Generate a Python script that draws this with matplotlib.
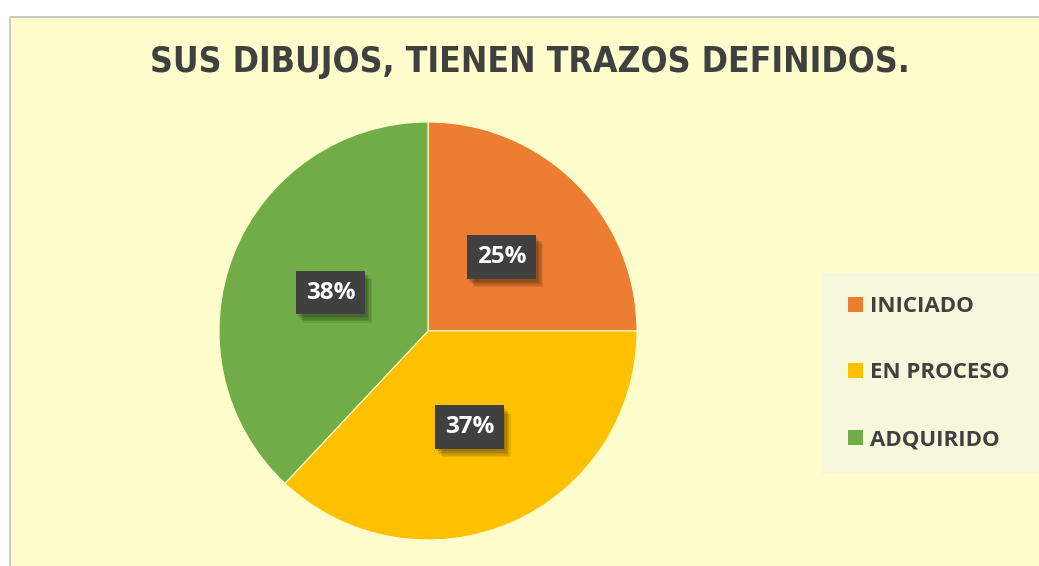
import matplotlib.pyplot as plt
import matplotlib.patheffects as pe
from matplotlib.patches import Rectangle, Patch

# data
categories = ["INICIADO", "EN PROCESO", "ADQUIRIDO"]
values = [25, 37, 38]
colors = ["#ED7D31", "#FFC000", "#70AD47"]
title = "SUS DIBUJOS, TIENEN TRAZOS DEFINIDOS."

W, H = 1039, 566
fig = plt.figure(figsize=(W / 100, H / 100), dpi=100, facecolor="white")

# chart area background (yellow) with thin grey border
fig.patches.append(Rectangle((10 / W, -0.05), 1.1, 1 - 17 / H + 0.05,
                             transform=fig.transFigure, facecolor="#FEFDCB",
                             edgecolor="#BFBFBF", linewidth=1.2, zorder=-2))
# legend background
fig.patches.append(Rectangle((821 / W, (H - 474) / H), 0.3, 201 / H,
                             transform=fig.transFigure, facecolor="#F7F7DC",
                             edgecolor="none", zorder=-1))

fig.text(530 / W, 1 - 62 / H, title, ha="center", va="center",
         fontsize=25.5, fontweight="bold", color="#404040",
         family="DejaVu Sans", fontstretch="condensed")

# pie axes: centre (428, 331) px, radius 209 px
r = 209
ax = fig.add_axes([(428 - r) / W, (H - 331 - r) / H, 2 * r / W, 2 * r / H])
ax.set_zorder(2)
ax.set_facecolor("none")
wedges, texts, autotexts = ax.pie(values, colors=colors, startangle=90,
                                  counterclock=False, radius=1,
                                  autopct="%d%%", pctdistance=0.5,
                                  wedgeprops=dict(linewidth=0.8, edgecolor="#FEFDCB"))
ax.set_xlim(-1, 1)
ax.set_ylim(-1, 1)
ax.set_aspect("auto")
ax.axis("off")

# soft drop shadow under the label boxes
shadow = [pe.SimplePatchShadow(offset=(o, -o - 1), shadow_rgbFace="black", alpha=0.09)
          for o in (1, 2, 3, 4, 5)]
for t in autotexts:
    t.set_color("white")
    t.set_fontsize(17.5)
    t.set_fontweight("bold")
    t.set_family("Open Sans")
    t.set_bbox(dict(boxstyle="square,pad=0.4", facecolor="#404040",
                    edgecolor="none", linewidth=0))
    t.get_bbox_patch().set_path_effects(shadow + [pe.Normal()])

handles = [Patch(facecolor=c, edgecolor="none") for c in colors]
fig.legend(handles, categories, loc="center left",
           bbox_to_anchor=(848 / W, (H - 373) / H), frameon=False,
           prop=dict(family="Open Sans", weight="bold", size=16),
           labelcolor="#404040", handlelength=0.68, handleheight=0.68,
           handletextpad=0.3, labelspacing=2.05, borderpad=0, borderaxespad=0)

fig.savefig("out.png", dpi=100, facecolor="white")
